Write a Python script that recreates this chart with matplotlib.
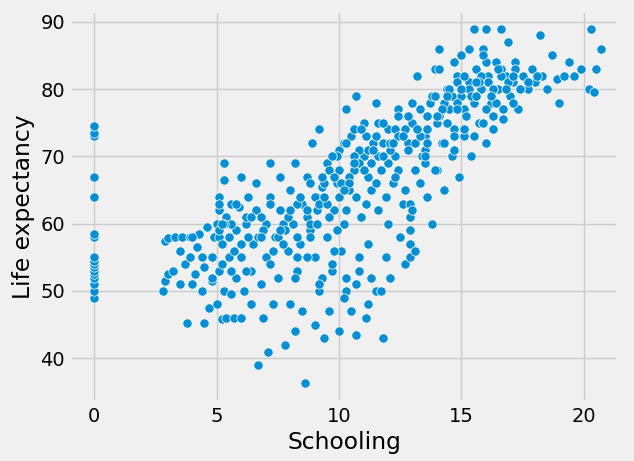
import matplotlib
matplotlib.use("Agg")
import matplotlib.pyplot as plt
import seaborn as sns
import pandas as pd

# points (approximate)
schooling = [
    0, 0, 0, 0, 0, 0, 0, 0, 0, 0, 0, 0, 0, 0, 0, 0, 0,
    2.8, 2.9, 2.9, 3.0, 3.0, 3.2, 3.3, 3.5, 3.5, 3.6, 3.7, 3.8, 3.9, 3.9, 4.0, 4.1, 4.2, 4.3, 4.4, 4.5, 4.5,
    4.6, 4.7, 4.8, 4.8, 4.9,
    5.0, 5.0, 5.1, 5.1, 5.1, 5.1, 5.1, 5.1, 5.2, 5.2, 5.3, 5.3, 5.3, 5.4, 5.4, 5.5, 5.5, 5.6, 5.6, 5.7, 5.8,
    5.8, 5.9, 6.0, 6.0, 6.0, 6.1, 6.2, 6.3, 6.4, 6.4, 6.5, 6.6, 6.6, 6.7, 6.8, 6.9, 7.0, 7.0, 7.1, 7.2, 7.2,
    7.3, 7.4, 7.5, 7.6, 7.6, 7.8, 7.9, 8.0, 8.0, 8.1, 8.2, 8.2, 8.3, 8.4, 8.5, 8.5, 8.6, 8.7, 8.8, 8.9, 9.0,
    9.0, 9.1, 9.2, 9.2, 9.3, 9.4, 9.5, 9.5, 9.6, 9.7, 9.8, 9.9, 10.0, 10.0, 10.1, 10.2, 10.3, 10.3, 10.4,
    10.5, 10.5, 10.6, 10.7, 10.7, 10.8, 10.9, 11.0, 11.0, 11.1, 11.2, 11.3, 11.4, 11.5, 11.5, 11.6, 11.7,
    11.8, 11.9, 12.0, 12.0, 12.1, 12.2, 12.3, 12.4, 12.5, 12.6, 12.7, 12.8, 12.9, 12.9, 12.9, 12.9, 12.9,
    13.0, 13.0, 13.1, 13.2, 13.3, 13.4, 13.5, 13.6, 13.7, 13.8, 13.9, 14.0, 14.0, 14.1, 14.2, 14.3, 14.4,
    14.5, 14.6, 14.7, 14.8, 14.9, 15.0, 15.0, 15.1, 15.2, 15.3, 15.4, 15.5, 15.5, 15.6, 15.7, 15.8, 15.9,
    16.0, 16.0, 16.1, 16.2, 16.3, 16.4, 16.5, 16.6, 16.7, 16.8, 16.9, 17.0, 17.1, 17.2, 17.3, 17.5, 17.7,
    17.9, 18.0, 18.2, 18.3, 18.5, 18.7, 18.9, 19.0, 19.2, 19.4, 19.6, 19.9, 20.2, 20.3, 20.4, 20.5, 20.7,
    9.6, 9.9, 10.2, 10.4, 10.6, 10.8, 11.1, 11.3, 11.6, 11.8, 12.1, 12.3, 12.6, 12.8, 13.1, 13.3, 13.6,
    13.8, 14.1, 14.3, 14.6, 14.8, 15.1, 15.3, 15.6, 15.8, 16.1, 16.3, 16.6, 16.8, 8.3, 8.7, 9.1, 9.4,
    7.7, 6.9, 6.2, 5.6, 10.1, 11.2, 12.4, 13.5, 14.7, 15.9, 17.1, 17.4,
    # denser cloud
    9.0, 9.3, 9.7, 10.0, 10.3, 10.6, 10.9, 11.2, 11.5, 11.8, 12.1, 12.4, 12.7, 13.0, 13.3, 13.6, 13.9,
    14.2, 14.5, 14.8, 15.1, 15.4, 15.7, 16.0, 16.3, 16.6, 16.9, 17.2,
    8.8, 9.2, 9.6, 10.0, 10.4, 10.8, 11.2, 11.6, 12.0, 12.4, 12.8, 13.2, 13.6, 14.0, 14.4, 14.8, 15.2,
    15.6, 16.0, 16.4,
    7.5, 7.9, 8.3, 8.7, 9.1, 9.5, 9.9, 10.3, 10.7, 11.1, 11.5, 11.9, 12.3, 12.7, 13.1, 13.5,
    5.3, 5.8, 6.3, 6.8, 7.3, 7.8, 8.3, 8.8, 9.3, 9.8, 10.3, 10.8, 11.3,
    5.2, 5.7, 6.2, 6.7, 7.2, 7.7, 8.2, 8.7, 9.2, 9.7, 10.2, 10.7, 11.2, 11.7,
    14.1, 14.4, 14.7, 15.0, 15.3, 15.6, 15.9, 16.2, 16.5, 16.8, 17.1, 17.4, 17.7, 18.1,
    13.5, 13.9, 14.3, 14.7, 15.1, 15.5, 15.9, 16.3, 16.7,
    4.0, 4.4, 4.8, 5.2, 5.6, 6.0, 6.4, 6.8, 7.2, 7.6, 8.0, 8.4, 8.8,
    9.4, 9.8, 10.2, 10.6, 11.0, 11.4, 11.8, 12.2, 12.6,
]
life_expectancy = [
    49, 50, 51, 52, 52.5, 53, 53.5, 54, 54.5, 55, 58, 58.5, 64, 67, 73, 73.5, 74.5,
    50, 51.5, 57.5, 52.5, 57.8, 53, 58, 51, 56, 58, 54, 45.2, 55, 58, 51, 52.5, 56.5, 58.5, 50, 45.2, 53.5,
    59.5, 47.5, 55, 51.5, 58,
    48, 60, 62, 64, 53, 58, 59, 63, 45.8, 57, 69, 66.5, 50, 46, 61, 58, 55, 49.5, 63, 46, 52,
    59, 62.5, 46, 55, 67, 50, 60, 64, 53, 48, 57, 62, 66, 39, 51, 46, 55, 60, 41, 69, 64,
    48, 58, 52, 62, 67, 42, 56, 48, 65, 60, 44, 69, 53, 57, 47, 63, 36.3, 67, 59, 72, 45,
    55, 62, 74, 50, 65.5, 43, 58, 69, 47, 53, 62, 66, 44, 71, 56, 60, 50, 77, 65,
    47, 73, 68, 43.5, 79, 53, 61, 70, 75, 46, 57, 65, 72, 50, 78, 62, 68,
    43, 55, 74, 60, 52, 66, 70, 77, 58, 63, 54, 72, 55, 57, 59, 61, 63,
    75, 62, 56, 82, 66, 70, 73, 64, 78, 60, 83, 68, 75, 86, 72, 65, 80,
    77, 70, 74, 82, 67, 79, 85, 73, 76, 81, 70, 89, 78, 83, 75, 80, 86,
    72, 89, 82, 78, 76, 84, 80, 89, 75.5, 82, 87, 79, 81, 84, 77, 82, 80,
    83, 81, 88, 82, 80, 85, 81.5, 78, 82, 84, 82, 83, 80, 89, 79.5, 83, 86,
    68, 70, 72, 67, 74, 71, 73, 69, 75, 72, 71, 74, 73, 76, 72, 77, 74,
    79, 76, 78, 79, 81, 77, 80, 79, 82, 81, 80, 83, 82, 63, 61, 64, 66,
    60, 59, 61, 60, 66, 67, 68, 71, 73, 75, 78, 80,
    # denser cloud
    64, 67, 70, 68, 72, 70, 74, 71, 73, 75, 72, 76, 74, 78, 73, 76, 79,
    77, 80, 78, 82, 79, 81, 84, 80, 82, 81, 83,
    60, 63, 61, 64, 66, 69, 67, 70, 69, 73, 71, 74, 72, 76, 75, 77, 76,
    79, 77, 78,
    58, 61, 58, 62, 60, 63, 59, 62, 64, 63, 66, 64, 67, 65, 68, 69,
    60, 63, 58, 61, 56, 59, 55, 58, 52, 56, 52, 55, 52,
    54, 56, 53, 58, 54, 57, 52, 55, 51, 54, 49, 51, 48, 50,
    83, 79, 84, 80, 86, 81, 85, 79, 83, 80, 82, 80, 81, 82,
    70, 68, 72, 71, 74, 73, 75, 74, 77,
    58, 55, 52, 60, 53, 57, 61, 58, 63, 59, 62, 64, 66,
    64, 67, 65, 69, 68, 71, 70, 72, 73,
]

df = pd.DataFrame({"Schooling": schooling, "Life expectancy": life_expectancy})

plt.style.use("fivethirtyeight")
fig = plt.figure(figsize=(6.34, 4.61), dpi=100)
ax = fig.add_axes([0.11, 0.128, 0.865, 0.848])
sns.scatterplot(data=df, x="Schooling", y="Life expectancy", ax=ax, s=45)
ax.set_xlabel("Schooling")
ax.set_ylabel("Life expectancy")
ax.set_xlim(-1.0, 21.4)
ax.set_ylim(33.5, 91.6)
ax.set_yticks([40, 50, 60, 70, 80, 90])
ax.set_xticks([0, 5, 10, 15, 20])
fig.savefig("out.png")
